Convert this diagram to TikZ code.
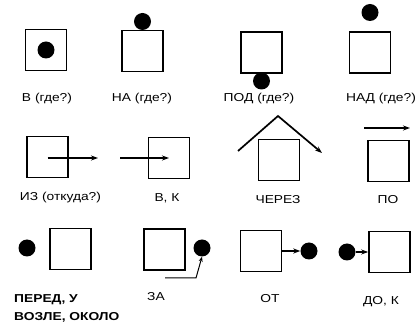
\documentclass[tikz,border=0pt]{standalone}
\usepackage{fontspec}
\setmainfont{Liberation Sans}
\newfontfamily\lblfont[FakeStretch=1.2]{Liberation Sans}
\usetikzlibrary{arrows.meta,positioning}
\begin{document}
\begin{tikzpicture}[x=1pt,y=-1pt]
	\def\sz{41pt}
	\tikzstyle{box} = [draw, line width=1.6pt, rectangle, minimum size=\sz, inner sep=0pt];
	\tikzstyle{dot} = [fill=black, circle, minimum size=17pt, inner sep=0pt];
	\tikzstyle{lbl} = [font=\lblfont\fontsize{11.5}{17.5}\selectfont, inner sep=0pt];
	\tikzstyle{arr} = [line width=1.7pt, -{Stealth[length=7pt,width=5pt]}];
	\useasboundingbox (0,0) rectangle (416,323);
	% row 1: where?
	\node[box] (b1) at (46,50) {};
	\node[dot] (d1) at (b1.center) {};
	\node[box] (b2) at (142.5,51) {};
	\node[dot,above=-0.5pt of b2] (d2) {};
	\node[box] (b3) at (261.5,52.5) {};
	\node[dot,below=-1.5pt of b3] (d3) {};
	\node[box] (b4) at (370,52.5) {};
	\node[dot,above=10pt of b4] (d4) {};
	\node[lbl] (l1) at (47,99) {В (где?)};
	\node[lbl] (l2) at (142,99) {НА (где?)};
	\node[lbl] (l3) at (259,99) {ПОД (где?)};
	\node[lbl] (l4) at (381,99) {НАД (где?)};
	% row 2: direction
	\node[box] (b5) at (47.5,157) {};
	\coordinate (e5) at (98,158);
	\draw[arr] (b5.center |- e5) -- (e5);
	\node[box] (b6) at (169,158) {};
	\coordinate (s6) at (120,158);
	\draw[arr] (s6) -- (b6.center);
	\node[box] (b7) at (279,160) {};
	\coordinate (r1) at (238,151);
	\coordinate (r2) at (278,116);
	\coordinate (r3) at (322,153);
	\draw[arr] (r1) -- (r2) -- (r3);
	\node[box] (b8) at (388.5,161) {};
	\coordinate (p1) at (364,128);
	\coordinate (p2) at (410,128);
	\draw[arr] (p1) -- (p2);
	\node[lbl] (l5) at (60.5,198) {ИЗ (откуда?)};
	\node[lbl] (l6) at (167,198) {В, К};
	\node[lbl] (l7) at (278,200) {ЧЕРЕЗ};
	\node[lbl] (l8) at (388,200) {ПО};
	% row 3: near
	\node[dot] (d9) at (27,248) {};
	\node[box] (b9) at (70.5,249) {};
	\node[box] (b10) at (164.5,249.5) {};
	\node[dot] (d10) at (202,248) {};
	\coordinate (z1) at (165,278);
	\draw[line width=1pt, -{Stealth[length=5pt,width=4pt]}] (z1) -- ++(31,0) -- (d10.south);
	\node[box] (b11) at (261,251) {};
	\node[dot] (d11) at (309,251) {};
	\draw[arr] (b11.east) -- (d11.west);
	\node[dot] (d12) at (347,252) {};
	\node[box] (b12) at (389.5,252) {};
	\draw[arr] (d12.east) -- (b12.west);
	\node[lbl, align=left, anchor=north west, font=\lblfont\bfseries\fontsize{11.5}{17.5}\selectfont] (l9) at (14,294.5) {ПЕРЕД, У\\ВОЗЛЕ, ОКОЛО};
	\node[lbl] (l10) at (156,297) {ЗА};
	\node[lbl] (l11) at (270,299) {ОТ};
	\node[lbl] (l12) at (381,302) {ДО, К};
\end{tikzpicture}
\end{document}
